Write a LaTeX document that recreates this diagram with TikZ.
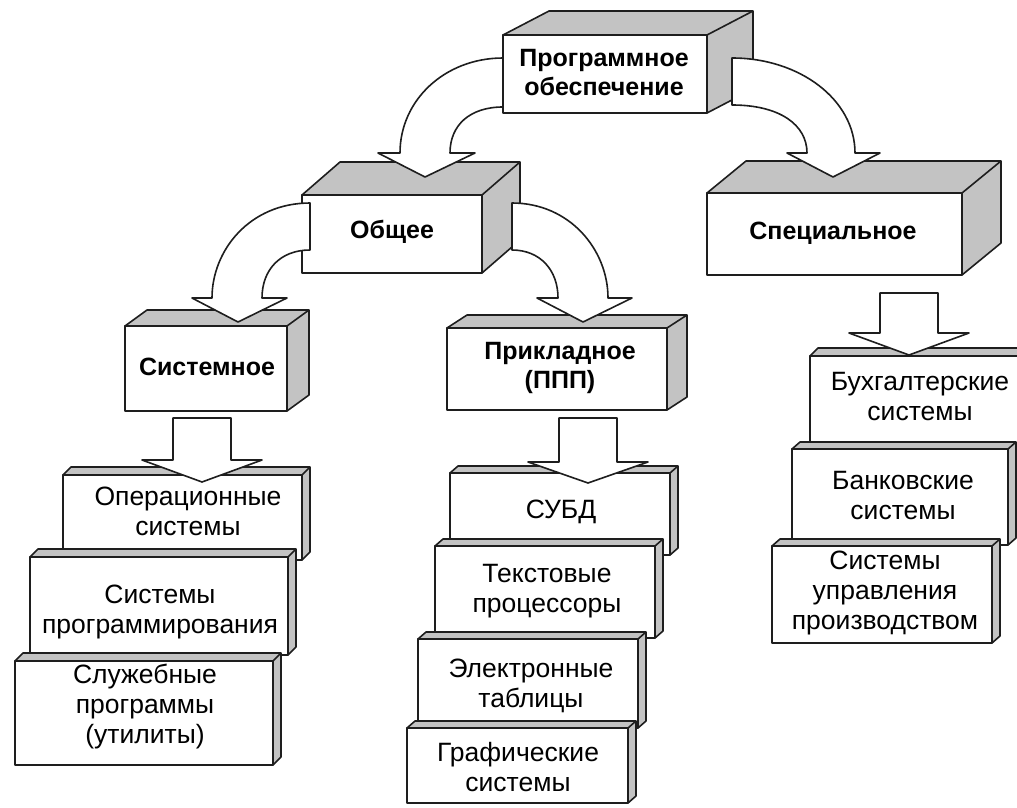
\documentclass[tikz,border=0pt]{standalone}
\usepackage{fontspec}
\setmainfont{Liberation Sans}
\usetikzlibrary{fit}
\definecolor{facegray}{RGB}{195,195,195}
\definecolor{edge}{RGB}{30,30,30}
\tikzset{
  edgeline/.style={draw=edge,line width=1.6pt,line join=round},
  blockarrow/.style={edgeline,fill=white},
  boldlbl/.style={font=\fontsize{25}{29}\selectfont\bfseries,align=center,inner sep=0pt,text=black},
  leaflbl/.style={font=\fontsize{26.5}{30}\selectfont,align=center,inner sep=0pt,text=black},
}
% #1 name, #2 x1, #3 y1, #4 x2, #5 y2 (front face), #6 dx, #7 dy (depth, up)
\newcommand{\cube}[7]{%
  \path[edgeline,fill=facegray] (#2,#3) -- (#2+#6,#3-#7) -- (#4+#6,#3-#7) -- (#4+#6,#5-#7) -- (#4,#5) -- (#4,#3) -- cycle;
  \draw[edgeline] (#4,#3) -- (#4+#6,#3-#7);
  \node[edgeline,fill=white,inner sep=0pt,fit={(#2,#3) (#4,#5)}] (#1) {};
}
\begin{document}
\begin{tikzpicture}[x=1pt,y=-1pt]
\useasboundingbox (0,0) rectangle (1017,808);
% main boxes
\cube{po}{503}{35}{707}{113}{46}{24}
\cube{ob}{302}{195}{482}{273}{38}{33}
\cube{sp}{707}{193}{962}{275}{39}{32}
\cube{sys}{125}{326}{287}{411}{22}{16}
\cube{pr}{447}{328}{667}{410}{20}{13}
% left stack
\cube{l1}{63}{475}{302}{560}{8}{8}
\cube{l2}{30}{557}{288}{655}{8}{8}
\cube{l3}{15}{661}{273}{765}{8}{8}
% middle stack
\cube{m1}{450}{473}{670}{555}{8}{7}
\cube{m2}{435}{546}{655}{638}{8}{7}
\cube{m3}{418}{639}{638}{728}{8}{7}
\cube{m4}{407}{728}{628}{803}{8}{7}
% right stack
\cube{r1}{810}{356}{1024}{447}{8}{8}
\cube{r2}{792}{449}{1008}{545}{8}{7}
\cube{r3}{772}{546}{992}{643}{8}{7}
% curved block arrows
\path[blockarrow] (503,58) .. controls (445,58) and (400,100) .. (400,153) -- (378,153) -- (425,177) -- (475,153) -- (450,153) .. controls (450,125) and (470,107) .. (503,107) -- cycle;
\path[blockarrow] (732,58) .. controls (800,58) and (855,100) .. (855,153) -- (880,153) -- (833,177) -- (787,153) -- (807,153) .. controls (807,125) and (780,105) .. (732,105) -- cycle;
\path[blockarrow] (310,203) .. controls (250,203) and (212,250) .. (212,298) -- (192,298) -- (238,322) -- (287,298) -- (262,298) .. controls (262,270) and (280,250) .. (310,250) -- cycle;
\path[blockarrow] (512,203) .. controls (570,203) and (608,250) .. (608,298) -- (632,298) -- (583,322) -- (537,298) -- (558,298) .. controls (558,270) and (540,250) .. (512,250) -- cycle;
% straight block arrows
\path[blockarrow] (173,418) -- (231,418) -- (231,460) -- (262,460) -- (202,482) -- (142,460) -- (173,460) -- cycle;
\path[blockarrow] (559,418) -- (617,418) -- (617,462) -- (648,462) -- (588,483) -- (528,462) -- (559,462) -- cycle;
\path[blockarrow] (880,293) -- (938,293) -- (938,333) -- (969,333) -- (909,355) -- (849,333) -- (880,333) -- cycle;
% labels
\node[boldlbl] (tpo) at (604,73) {Программное\\обеспечение};
\node[boldlbl] (tob) at (392,232) {Общее};
\node[boldlbl] (tsys) at (207,367) {Системное};
\node[boldlbl] (tpr) at (560,368) {Прикладное\\(ППП)};
\node[boldlbl] (tsp) at (833,233) {Специальное};
\node[leaflbl] (tl1) at (188,511) {Операционные\\системы};
\node[leaflbl] (tl2) at (160,612) {Системы\\программирования};
\node[leaflbl] (tl3) at (145,707) {Служебные\\программы\\(утилиты)};
\node[leaflbl] (tm1) at (561,512) {СУБД};
\node[leaflbl] (tm2) at (547,591) {Текстовые\\процессоры};
\node[leaflbl] (tm3) at (531,686) {Электронные\\таблицы};
\node[leaflbl] (tm4) at (518,767) {Графические\\системы};
\node[leaflbl] (tr1) at (920,397) {Бухгалтерские\\системы};
\node[leaflbl] (tr2) at (903,496) {Банковские\\системы};
\node[leaflbl] (tr3) at (885,593) {Системы\\управления\\производством};
\end{tikzpicture}
\end{document}
